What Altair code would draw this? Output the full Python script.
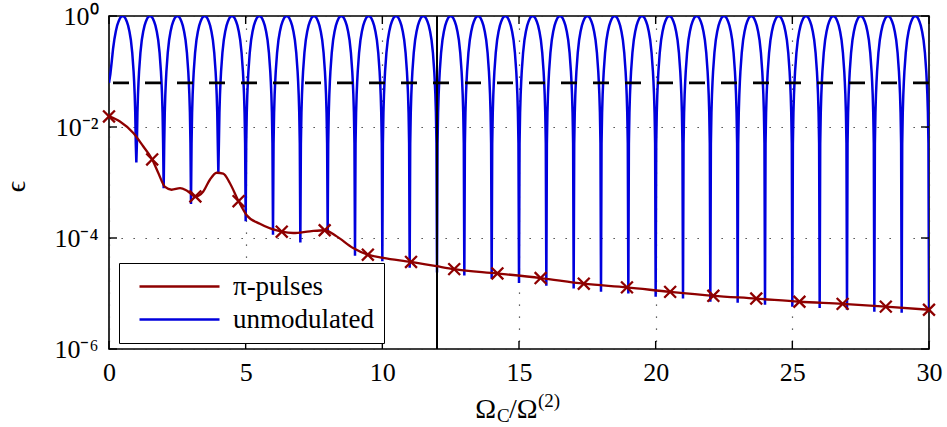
import altair as alt
import pandas as pd

FONT = "Liberation Serif"
BLUE = "#0000DD"
RED = "#8E0000"
W, H = 820, 333

# ---------------- data ----------------
x_ticks = [0, 5, 10, 15, 20, 25, 30]
y_ticks = [1e-6, 1e-4, 1e-2, 1.0]
y_tick_labels = ["10⁻⁶", "10⁻⁴", "10⁻²", "10⁰"]

series_names = ["π-pulses", "unmodulated"]

# unmodulated: dip positions and the depth reached at each dip
dip_positions = [1, 2, 3, 4, 5, 6, 7, 8, 9, 10, 11, 12, 13, 14, 15,
                 16, 17, 18, 19, 20, 21, 22, 23, 24, 25, 26, 27, 28, 29, 30]
dip_minima = [2.3e-3, 7.9e-4, 4.1e-4, 1.5e-3, 2.0e-4, 1.15e-4, 8.3e-5, 1.25e-4,
              4.8e-5, 3.8e-5, 2.9e-5, 2.4e-5, 2.1e-5, 1.85e-5, 1.55e-5, 1.38e-5,
              1.23e-5, 1.07e-5, 1.0e-5, 8.7e-6, 8.1e-6, 7.1e-6, 6.8e-6, 6.3e-6,
              5.8e-6, 5.5e-6, 5.1e-6, 4.7e-6, 4.5e-6, 4.8e-6]
# shape of one arch (distance from a dip -> epsilon), identical for all arches
arch_offsets = [0.02, 0.04, 0.06, 0.08, 0.10, 0.15, 0.20, 0.25, 0.30, 0.35, 0.40, 0.45, 0.50]
arch_values = [0.005, 0.018, 0.038, 0.065, 0.10, 0.22, 0.37, 0.52, 0.67, 0.80, 0.91, 0.98, 1.0]
# first half arch, starting at x = 0
first_rise_x = [0.0, 0.05, 0.10, 0.15, 0.20, 0.25, 0.30, 0.35, 0.40, 0.45, 0.50]
first_rise_eps = [0.0625, 0.09, 0.15, 0.26, 0.39, 0.53, 0.68, 0.80, 0.91, 0.98, 1.0]

# pi-pulses curve
red_x = [0.0, 0.40, 0.89, 1.25, 1.58, 1.80, 2.05, 2.29, 2.60, 2.84, 3.16, 3.45, 3.69,
         3.94, 4.18, 4.42, 4.74, 5.03, 5.52, 6.32, 6.74, 7.35, 7.89, 8.33, 8.93, 9.47,
         10.03, 11.05, 11.98, 12.63, 14.21, 15.79, 17.37, 18.95, 20.53, 22.11, 23.68,
         25.26, 26.84, 28.42, 30.0]
red_eps = [1.55e-2, 1.26e-2, 7.8e-3, 4.5e-3, 2.6e-3, 1.5e-3, 8.3e-4, 7.4e-4, 7.9e-4,
           7.2e-4, 5.6e-4, 6.9e-4, 1.12e-3, 1.5e-3, 1.45e-3, 9.8e-4, 4.6e-4, 2.6e-4,
           1.8e-4, 1.3e-4, 1.23e-4, 1.32e-4, 1.38e-4, 1.07e-4, 6.6e-5, 5.0e-5, 4.4e-5,
           3.7e-5, 3.1e-5, 2.75e-5, 2.3e-5, 1.9e-5, 1.5e-5, 1.29e-5, 1.07e-5, 9.1e-6,
           8.1e-6, 7.1e-6, 6.5e-6, 5.8e-6, 5.1e-6]
marker_x = [0.0, 1.58, 3.16, 4.74, 6.32, 7.89, 9.47, 11.05, 12.63, 14.21, 15.79,
            17.37, 18.95, 20.53, 22.11, 23.68, 25.26, 26.84, 28.42, 30.0]
marker_eps = [1.55e-2, 2.6e-3, 5.6e-4, 4.6e-4, 1.3e-4, 1.38e-4, 5.0e-5, 3.7e-5,
              2.75e-5, 2.3e-5, 1.9e-5, 1.5e-5, 1.29e-5, 1.07e-5, 9.1e-6, 8.1e-6,
              7.1e-6, 6.5e-6, 5.8e-6, 5.1e-6]

threshold = [0.0625]
vline_x = [12]

# ---------------- tables ----------------
bx, by = list(first_rise_x), list(first_rise_eps)
for n, m in zip(dip_positions, dip_minima):
    for off, v in zip(reversed(arch_offsets[:-1]), reversed(arch_values[:-1])):
        bx.append(n - off); by.append(v)
    bx.append(n); by.append(m)
    if n < dip_positions[-1]:
        for off, v in zip(arch_offsets, arch_values):
            bx.append(n + off); by.append(v)
blue_df = pd.DataFrame({"x": bx, "eps": by, "series": series_names[1]})
red_df = pd.DataFrame({"x": red_x, "eps": red_eps, "series": series_names[0]})
mark_df = pd.DataFrame({"x": marker_x, "eps": marker_eps})
xt_df = pd.DataFrame({"x": x_ticks})
yt_df = pd.DataFrame({"eps": y_ticks})

label_expr = ""
pairs = sorted(zip(y_ticks, y_tick_labels), reverse=True)
for v, l in pairs[:-1]:
    label_expr += f"datum.value > {v/2!r} ? '{l}' : "
label_expr += f"'{pairs[-1][1]}'"

x_scale = alt.Scale(domain=[0, 30], nice=False, zero=False)
y_scale = alt.Scale(type="log", domain=[1e-6, 1.0], nice=False)
color_scale = alt.Scale(domain=series_names, range=[RED, BLUE])

x_axis = alt.Axis(values=x_ticks, title=None, grid=True, ticks=False, tickSize=0,
                  domain=False, labelFont=FONT, labelFontSize=26, labelPadding=10,
                  labelFlush=False, labelOverlap=False,
                  labelColor="black", gridDash=[1.3, 10.7], gridColor="#333333",
                  gridWidth=1.2)
y_axis = alt.Axis(values=y_ticks, labelExpr=label_expr, title="ϵ", grid=True,
                  ticks=False, tickSize=0, domain=False, labelFont=FONT,
                  labelFontSize=26, labelPadding=11, labelColor="black",
                  labelFlush=False, labelOverlap=False,
                  gridDash=[1.3, 10.7], gridColor="#333333", gridWidth=1.2,
                  titleFont=FONT, titleFontSize=28, titleFontWeight="normal",
                  titleAngle=270, titleX=-93, titleY=170, titleBaseline="middle",
                  titleAlign="center", titleColor="black")

X = alt.X("x:Q", scale=x_scale, axis=x_axis)
Y = alt.Y("eps:Q", scale=y_scale, axis=y_axis)

legend = alt.Legend(title=None, orient="none", legendX=10, legendY=247,
                    symbolType="M-1,0L7,0", symbolSize=400, symbolStrokeWidth=2.5,
                    labelOffset=70, symbolOffset=7, padding=10, rowPadding=5,
                    labelFont=FONT, labelFontSize=27, labelLimit=400,
                    labelColor="black", strokeColor="black", fillColor="white")
C = alt.Color("series:N", scale=color_scale, legend=legend)

blue = alt.Chart(blue_df).mark_line(strokeWidth=2.5, clip=True).encode(x=X, y=Y, color=C)
dashed = alt.Chart(pd.DataFrame({"eps": threshold})).mark_rule(
    color="black", strokeWidth=2.6, strokeDash=[16, 16]).encode(y=Y)
vline = alt.Chart(pd.DataFrame({"x": vline_x})).mark_rule(
    color="black", strokeWidth=2).encode(x=X)
red = alt.Chart(red_df).mark_line(strokeWidth=2.3, interpolate="monotone").encode(
    x=X, y=Y, color=C)
markers = alt.Chart(mark_df).mark_point(
    shape="M-1,-1L1,1M-1,1L1,-1", filled=False, size=140, strokeWidth=2.3,
    color=RED, opacity=1).encode(x=X, y=Y)

TL = 8
top_ticks = alt.Chart(xt_df).mark_rule(color="black", strokeWidth=1.4).encode(
    x=X, y=alt.value(0), y2=alt.value(TL))
bot_ticks = alt.Chart(xt_df).mark_rule(color="black", strokeWidth=1.4).encode(
    x=X, y=alt.value(H - TL), y2=alt.value(H))
left_ticks = alt.Chart(yt_df).mark_rule(color="black", strokeWidth=1.4).encode(
    y=Y, x=alt.value(0), x2=alt.value(TL))
right_ticks = alt.Chart(yt_df).mark_rule(color="black", strokeWidth=1.4).encode(
    y=Y, x=alt.value(W - TL), x2=alt.value(W))

# x-axis title  Ω_C / Ω^(2)
one = pd.DataFrame({"k": [0]})
def piece(txt, px, py, size, align):
    return alt.Chart(one).mark_text(text=txt, font=FONT, fontSize=size, align=align,
                                    baseline="alphabetic", color="black").encode(
        x=alt.value(px), y=alt.value(py))

xt1 = piece("Ω", 387, 402, 28, "right")
xt2 = piece("C", 388, 406, 19, "left")
xt3 = piece("/Ω", 400, 402, 28, "left")
xt4 = piece("(2)", 429, 391, 19, "left")

chart = alt.layer(
    blue, dashed, vline, red, markers,
    top_ticks, bot_ticks, left_ticks, right_ticks,
    xt1, xt2, xt3, xt4,
).properties(
    width=W, height=H,
    autosize=alt.AutoSizeParams(type="none"),
    padding={"left": 109, "top": 16, "right": 18, "bottom": 78},
    background="white",
).configure_view(stroke="black", strokeWidth=1.6)

chart.save("out.html", embed_options={"renderer": "svg", "actions": False})
